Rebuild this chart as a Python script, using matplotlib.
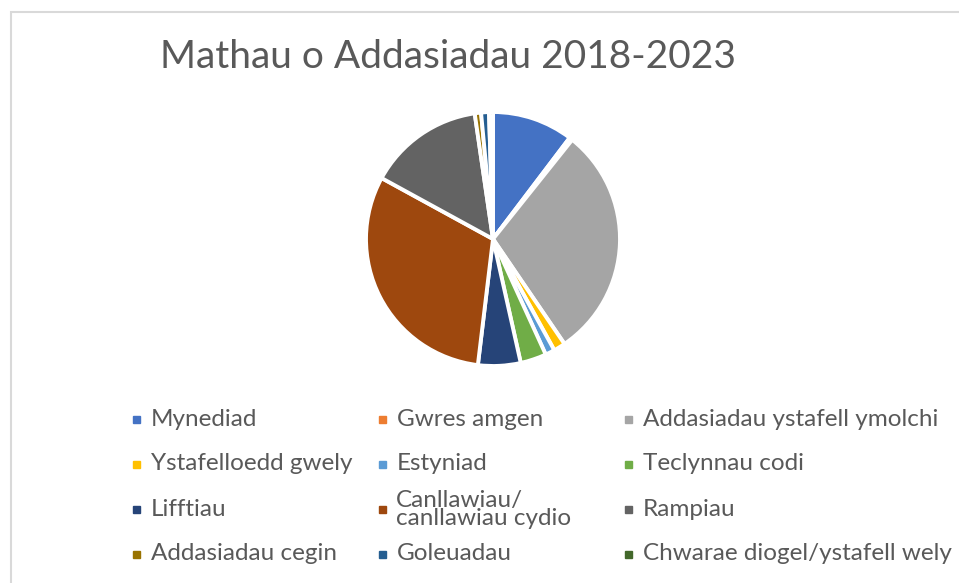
import matplotlib
matplotlib.use("Agg")
import matplotlib.pyplot as plt
from matplotlib.patches import Rectangle

# data (percent share of adaptations)
categories = [
    "Mynediad", "Gwres amgen", "Addasiadau ystafell ymolchi",
    "Ystafelloedd gwely", "Estyniad", "Teclynnau codi",
    "Lifftiau", "Canllawiau/\ncanllawiau cydio", "Rampiau",
    "Addasiadau cegin", "Goleuadau", "Chwarae diogel/ystafell wely",
]
values = [10.3, 0.4, 29.7, 1.5, 1.2, 3.3, 5.4, 31.0, 14.7, 0.8, 1.0, 0.5]
colors = ["#4472C4", "#ED7D31", "#A5A5A5", "#FFC000", "#5B9BD5", "#70AD47",
          "#264478", "#9E480E", "#636363", "#997300", "#255E91", "#43682B"]

plt.rcParams["font.family"] = ["Lato", "DejaVu Sans"]
text_col = "#595959"

W, H = 959, 583
fig = plt.figure(figsize=(W / 100, H / 100), dpi=100)

# chart frame (cropped on the right and bottom)
fig.patches.append(Rectangle((11 / W, -0.1), 1.2, 1 - 12 / H + 0.1,
                             transform=fig.transFigure, fill=False,
                             edgecolor="#D9D9D9", lw=1.5))

fig.text(448 / W, 1 - 68 / H, "Mathau o Addasiadau 2018-2023",
         ha="center", va="baseline", fontsize=28, color=text_col)

cx, cy, r = 493, 239, 127
ax = fig.add_axes([(cx - r) / W, (H - cy - r) / H, 2 * r / W, 2 * r / H])
ax.pie(values, colors=colors, startangle=90, counterclock=False, radius=1,
       wedgeprops=dict(edgecolor="white", linewidth=2.8))
ax.set_xlim(-1, 1)
ax.set_ylim(-1, 1)
ax.set_aspect("equal")
ax.axis("off")

# legend, filled row by row like the original
col_x = [133, 379, 625]
row_y = [419, 464, 509, 554]
for i, (lab, c) in enumerate(zip(categories, colors)):
    row, col = divmod(i, 3)
    mx, my = col_x[col], row_y[row]
    fig.patches.append(Rectangle((mx / W, (H - my - 3.5) / H), 7 / W, 7 / H,
                                 transform=fig.transFigure, color=c))
    if "\n" in lab:
        fig.text((mx + 17) / W, 1 - (my + 0.5) / H, lab, ha="left", va="center",
                 fontsize=17.5, color=text_col, linespacing=0.78)
    else:
        fig.text((mx + 18) / W, 1 - my / H, lab, ha="left", va="center",
                 fontsize=17.5, color=text_col)

fig.savefig("out.png", dpi=100)
